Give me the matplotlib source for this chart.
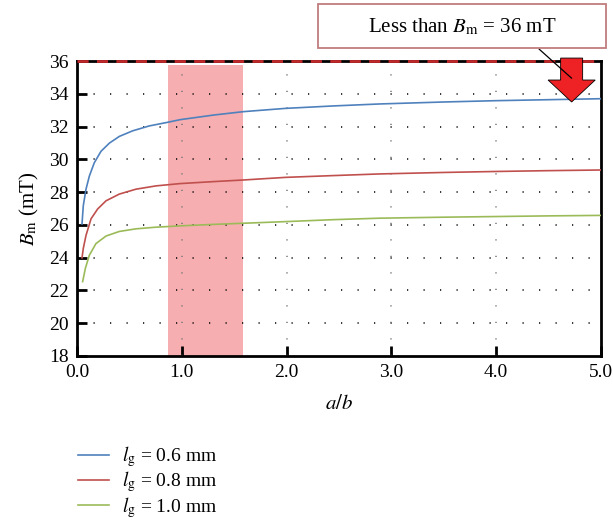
import matplotlib
matplotlib.use('Agg')
import matplotlib.pyplot as plt
from matplotlib.patches import FancyArrow, Rectangle

plt.rcParams['font.family'] = ['Liberation Serif', 'DejaVu Serif']
plt.rcParams['mathtext.fontset'] = 'stix'

# curves
x_06 = [0.048, 0.06, 0.086, 0.118, 0.165, 0.229, 0.309, 0.404, 0.531, 0.69, 0.865,
        0.983, 1.3, 1.587, 1.99, 2.45, 2.89, 3.5, 4.0, 4.5, 5.0]
b_06 = [26.06, 27.17, 28.18, 28.98, 29.79, 30.49, 30.99, 31.4, 31.74, 32.04, 32.26,
        32.42, 32.7, 32.91, 33.11, 33.26, 33.38, 33.5, 33.58, 33.64, 33.7]

x_08 = [0.048, 0.06, 0.086, 0.134, 0.197, 0.277, 0.404, 0.563, 0.754, 0.983, 1.3,
        1.587, 1.99, 2.45, 2.89, 3.5, 4.0, 4.5, 5.0]
b_08 = [23.99, 24.56, 25.36, 26.37, 26.97, 27.47, 27.88, 28.18, 28.38, 28.52, 28.64,
        28.74, 28.9, 29.01, 29.11, 29.2, 29.26, 29.31, 29.35]

x_10 = [0.054, 0.08, 0.118, 0.181, 0.277, 0.404, 0.563, 0.754, 0.983, 1.3, 1.587,
        1.99, 2.45, 2.89, 3.5, 4.0, 4.5, 5.0]
b_10 = [22.54, 23.35, 24.15, 24.86, 25.32, 25.6, 25.76, 25.86, 25.94, 26.03, 26.1,
        26.2, 26.32, 26.41, 26.47, 26.51, 26.55, 26.58]

labels = [r'$l_\mathrm{g}$ = 0.6 mm', r'$l_\mathrm{g}$ = 0.8 mm', r'$l_\mathrm{g}$ = 1.0 mm']
cores = ['#4F81BD', '#C0504D', '#9BBB59']

faixa = (0.87, 1.58)
topo_faixa = 35.75
b_limite = 36
seta_x = 4.72

fig = plt.figure(figsize=(6.13, 5.26), dpi=100)
ax = fig.add_axes([0.1256, 0.3232, 0.8548, 0.5608])

ax.fill_between(faixa, 18, topo_faixa, color='#F7AEB0', lw=0, zorder=1)

linhas = []
for xs, ys, cor, lab in zip([x_06, x_08, x_10], [b_06, b_08, b_10], cores, labels):
    l, = ax.plot(xs, ys, color=cor, lw=1.2, label=lab, zorder=3)
    linhas.append(l)

ax.set_xlim(0, 5)
ax.set_ylim(18, 36)
ax.set_xticks([0, 1, 2, 3, 4, 5])
ax.set_xticklabels(['0.0', '1.0', '2.0', '3.0', '4.0', '5.0'])
ax.set_yticks(range(18, 37, 2))

for y in range(20, 35, 2):
    ax.axhline(y, color='black', lw=1.1, ls=(0, (0.8, 10)), zorder=2)
for x in [1, 2, 3, 4]:
    ax.axvline(x, color='#777777', lw=1.1, ls=(0, (0.8, 10)), zorder=2)

for s in ax.spines.values():
    s.set_linewidth(2)
ax.tick_params(axis='both', direction='in', length=7, width=2, labelsize=14,
               top=False, right=False, pad=6)

ax.axhline(b_limite, color='#C0282A', lw=2, ls=(0, (4, 3)), zorder=5, clip_on=False)

ax.set_xlabel(r'$a/b$', fontsize=15, labelpad=10)
ax.set_ylabel(r'$B_\mathrm{m}$ (mT)', fontsize=15, labelpad=6)

seta = FancyArrow(seta_x, 36.18, 0, -2.68, width=0.21, head_width=0.45,
                  head_length=1.34, length_includes_head=True,
                  facecolor='#EE2124', edgecolor='black', lw=0.6,
                  clip_on=False, zorder=6)
ax.add_patch(seta)

caixa = Rectangle((318 / 613, 1 - 48 / 526), 288 / 613, 44 / 526,
                  transform=fig.transFigure, facecolor='white',
                  edgecolor='#C27C7E', lw=1.3)
fig.patches.append(caixa)
fig.text(462 / 613, 1 - 27 / 526, r'Less than $B_\mathrm{m}$ = 36 mT',
         ha='center', va='center', fontsize=15)

ax.annotate('', xy=(seta_x, 34.95), xycoords='data',
            xytext=(539 / 613, 1 - 49 / 526), textcoords='figure fraction',
            arrowprops=dict(arrowstyle='-', color='black', lw=0.9,
                            shrinkA=0, shrinkB=0), zorder=8)

fig.legend(handles=linhas, loc='upper left', bbox_to_anchor=(0.111, 0.174),
           frameon=False, fontsize=14, handlelength=1.6, handletextpad=0.7,
           labelspacing=0.02, borderpad=0)

plt.savefig('out.png', dpi=100)
